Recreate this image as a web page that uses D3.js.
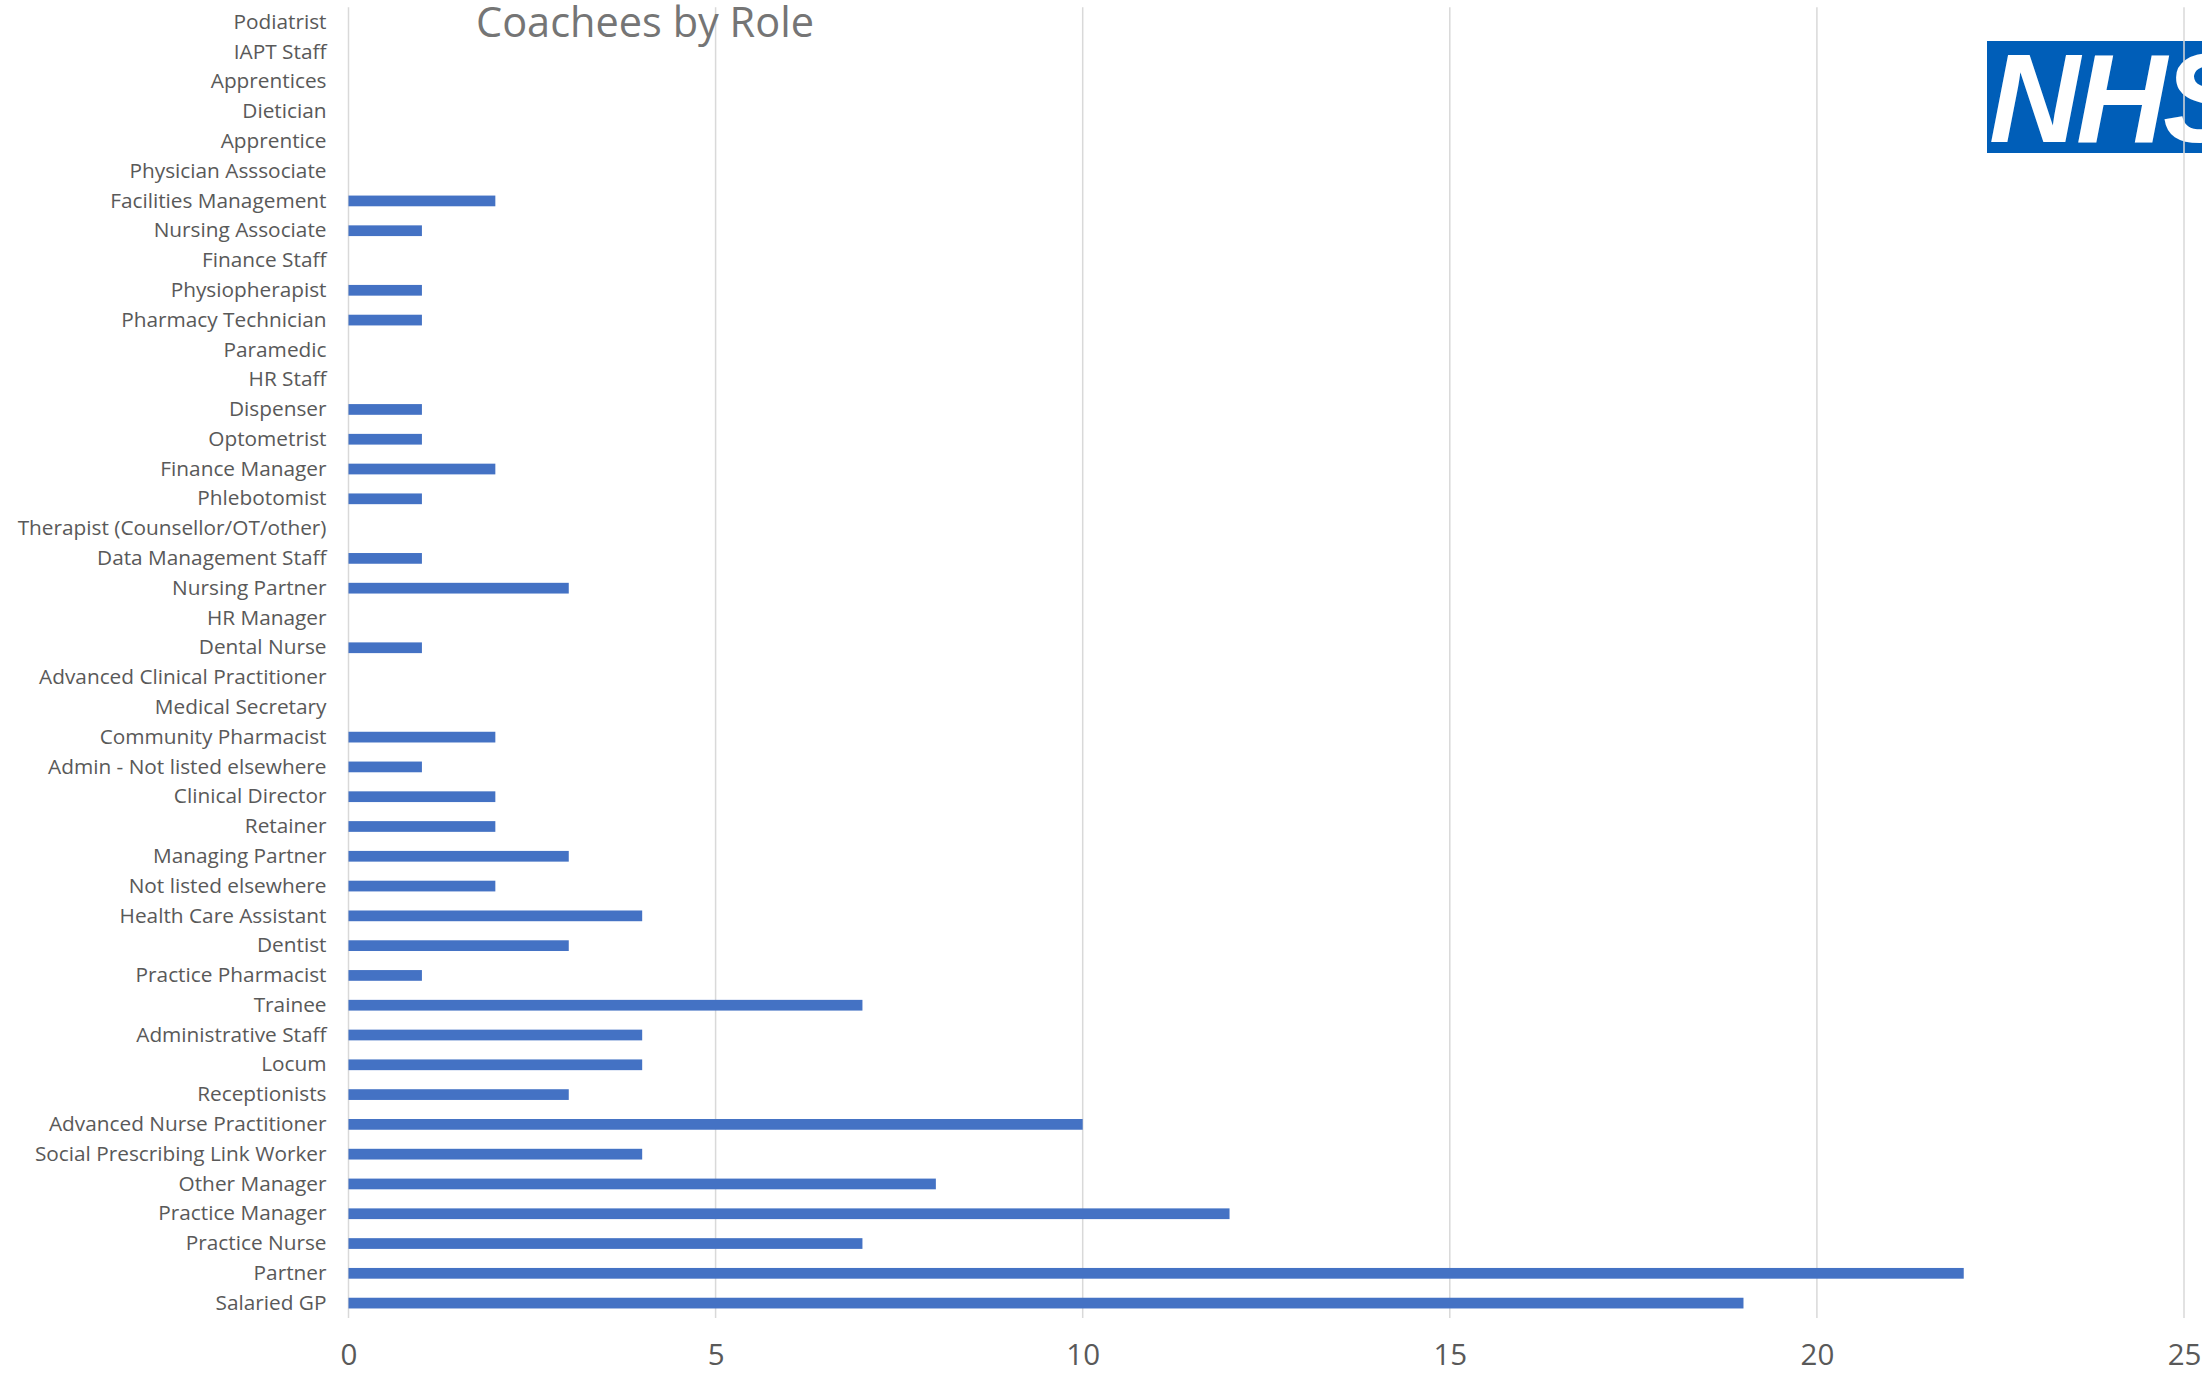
<!DOCTYPE html>
<html>
<head>
<meta charset="utf-8">
<script src="https://cdn.jsdelivr.net/npm/d3@7"></script>
<style>
  html, body { margin: 0; padding: 0; background: #ffffff; }
  svg { display: block; }
</style>
</head>
<body>
<svg id="chart" width="2202" height="1373"></svg>
<script>
// Roles, listed top to bottom as they appear on the chart
const roles = [
  "Podiatrist", "IAPT Staff", "Apprentices", "Dietician", "Apprentice",
  "Physician Asssociate", "Facilities Management", "Nursing Associate",
  "Finance Staff", "Physiopherapist", "Pharmacy Technician", "Paramedic",
  "HR Staff", "Dispenser", "Optometrist", "Finance Manager", "Phlebotomist",
  "Therapist (Counsellor/OT/other)", "Data Management Staff", "Nursing Partner",
  "HR Manager", "Dental Nurse", "Advanced Clinical Practitioner",
  "Medical Secretary", "Community Pharmacist", "Admin - Not listed elsewhere",
  "Clinical Director", "Retainer", "Managing Partner", "Not listed elsewhere",
  "Health Care Assistant", "Dentist", "Practice Pharmacist", "Trainee",
  "Administrative Staff", "Locum", "Receptionists", "Advanced Nurse Practitioner",
  "Social Prescribing Link Worker", "Other Manager", "Practice Manager",
  "Practice Nurse", "Partner", "Salaried GP"
];

// Number of coachees per role (same order as roles)
const coachees = [
  0, 0, 0, 0, 0,
  0, 2, 1,
  0, 1, 1, 0,
  0, 1, 1, 2, 1,
  0, 1, 3,
  0, 1, 0,
  0, 2, 1,
  2, 2, 3, 2,
  4, 3, 1, 7,
  4, 4, 3, 10,
  4, 8, 12,
  7, 22, 19
];

// Value axis ticks
const xTicks = [0, 5, 10, 15, 20, 25];

const chartTitle = "Coachees by Role";

const svg = d3.select("#chart");

const x = d3.scaleLinear().domain([0, 25]).range([348.5, 2184]);
const y = d3.scaleBand().domain(roles).range([7.3, 1318]).paddingInner(0.64).paddingOuter(0.32);

// NHS logo block (sits behind the grid)
const logo = svg.append("g").attr("class", "logo");
logo.append("rect")
  .attr("x", 1987).attr("y", 41)
  .attr("width", 230).attr("height", 112)
  .attr("fill", "#005EB8");
logo.append("text")
  .attr("x", 1989).attr("y", 142)
  .attr("fill", "#ffffff")
  .attr("font-family", "Liberation Sans, Arial, sans-serif")
  .attr("font-weight", "bold")
  .attr("font-style", "italic")
  .attr("font-size", 126)
  .attr("letter-spacing", -4)
  .text("NHS");

// Vertical gridlines
svg.append("g").attr("class", "grid")
  .selectAll("line")
  .data(xTicks)
  .join("line")
  .attr("x1", d => x(d)).attr("x2", d => x(d))
  .attr("y1", 7.3).attr("y2", 1318)
  .attr("stroke", "#d9d9d9")
  .attr("stroke-width", 1.5);

// Bars
svg.append("g").attr("class", "bars")
  .selectAll("rect")
  .data(roles.map((r, i) => ({ role: r, value: coachees[i] })))
  .join("rect")
  .attr("x", x(0))
  .attr("y", d => y(d.role))
  .attr("width", d => x(d.value) - x(0))
  .attr("height", y.bandwidth())
  .attr("fill", "#4472C4");

// Category axis labels
const yAxis = d3.axisLeft(y).tickSize(0).tickPadding(22);
const gy = svg.append("g")
  .attr("transform", `translate(${x(0)},0)`)
  .call(yAxis);
gy.select(".domain").remove();
gy.selectAll("text")
  .attr("fill", "#595959")
  .attr("font-family", "'Open Sans', Lato, sans-serif")
  .attr("font-size", 20.8);

// Value axis labels
const xAxis = d3.axisBottom(x).tickValues(xTicks).tickSize(0).tickPadding(0);
const gx = svg.append("g")
  .attr("transform", "translate(0,1338)")
  .call(xAxis);
gx.select(".domain").remove();
gx.selectAll("text")
  .attr("fill", "#595959")
  .attr("font-family", "'Open Sans', Lato, sans-serif")
  .attr("font-size", 29.5)
  .attr("dy", "0.9em");

// Title
svg.append("text")
  .attr("x", 476).attr("y", 37)
  .attr("fill", "#757575")
  .attr("font-family", "'Open Sans', Lato, sans-serif")
  .attr("font-size", 41.5)
  .text(chartTitle);
</script>
</body>
</html>
